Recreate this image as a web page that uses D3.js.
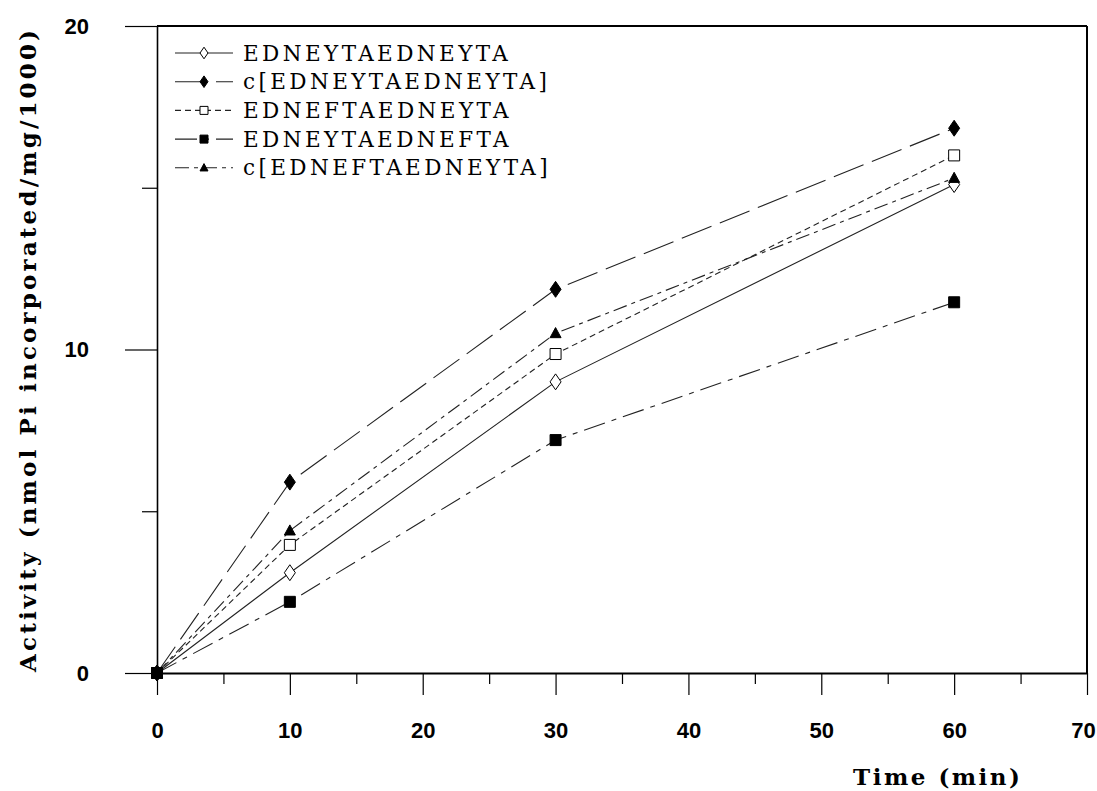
<!DOCTYPE html>
<html>
<head>
<meta charset="utf-8">
<script src="https://cdn.jsdelivr.net/npm/d3@7"></script>
<style>
  body { margin: 0; background: #fff; }
  svg { display: block; }
</style>
</head>
<body>
<div id="canvas"></div>
<script>
// data
var times = [0, 10, 30, 60];
var seriesNames = ['EDNEYTAEDNEYTA', 'c[EDNEYTAEDNEYTA]', 'EDNEFTAEDNEYTA', 'EDNEYTAEDNEFTA', 'c[EDNEFTAEDNEYTA]'];
var linEdneyta = [0, 3.1, 9.0, 15.1];
var cycEdneyta = [0, 5.9, 11.86, 16.84];
var edneftaEdneyta = [0, 3.96, 9.86, 16.0];
var edneytaEdnefta = [0, 2.2, 7.2, 11.46];
var cycEdnefta = [0, 4.4, 10.5, 15.3];
var xMajorTicks = [0, 10, 20, 30, 40, 50, 60, 70];
var xMinorTicks = [5, 15, 25, 35, 45, 55, 65];
var yMajorTicks = [0, 10, 20];
var yMinorTicks = [5, 15];

var values = [linEdneyta, cycEdneyta, edneftaEdneyta, edneytaEdnefta, cycEdnefta];

// line + marker style per series (same order as seriesNames)
var styles = [
  {dash: null, shape: 'diamond', fill: '#fff'},
  {dash: '32,9', shape: 'diamond', fill: '#000'},
  {dash: '6,4', shape: 'square', fill: '#fff'},
  {dash: '22,7,5,7', shape: 'square', fill: '#000'},
  {dash: '14,5,4,5', shape: 'triangle', fill: '#000'}
];
// draw filled square last so it sits on top at the origin
var drawOrder = [0, 1, 2, 4, 3];

var cv = {width: 1097, height: 791};

var x = d3.scaleLinear().domain([0, 70]).range([157, 1087]);
var y = d3.scaleLinear().domain([0, 20]).range([673, 26]);

var svg = d3.select('#canvas').append('svg')
  .attr('width', cv.width)
  .attr('height', cv.height);

svg.append('rect')
  .attr('width', cv.width)
  .attr('height', cv.height)
  .attr('fill', '#fff');

//marker path, size s = half width
function markerPath(shape, s) {
  if (shape === 'diamond') {
    var h = s * 1.45;
    return 'M0,' + (-h) + 'L' + s + ',0L0,' + h + 'L' + (-s) + ',0Z';
  }
  if (shape === 'square') {
    return 'M' + (-s) + ',' + (-s) + 'h' + (2 * s) + 'v' + (2 * s) + 'h' + (-2 * s) + 'Z';
  }
  // triangle
  var t = s * 1.05;
  return 'M0,' + (-t) + 'L' + s + ',' + (t * 0.75) + 'L' + (-s) + ',' + (t * 0.75) + 'Z';
}

//frame: top and right border
svg.append('line')
  .attr('x1', x(0)).attr('x2', x(70))
  .attr('y1', y(20)).attr('y2', y(20))
  .attr('stroke', '#000').attr('stroke-width', 2);
svg.append('line')
  .attr('x1', x(70)).attr('x2', x(70))
  .attr('y1', y(20)).attr('y2', y(0))
  .attr('stroke', '#000').attr('stroke-width', 2);

//x axis
var xAxis = svg.append('g')
  .attr('class', 'x-axis')
  .attr('transform', 'translate(0,' + y(0) + ')')
  .call(d3.axisBottom(x).tickValues(xMajorTicks).tickSize(22).tickPadding(27).tickSizeOuter(0));
xAxis.select('.domain').attr('stroke-width', 2);
xAxis.selectAll('.tick line').attr('stroke-width', 1.2);
xAxis.selectAll('text')
  .attr('font-family', '"Liberation Sans", Arial, sans-serif')
  .attr('font-weight', 'bold')
  .attr('font-size', 22)
  .attr('fill', '#000')
  .attr('dx', d => d === 70 ? -4 : 0);

svg.append('g')
  .attr('transform', 'translate(0,' + y(0) + ')')
  .call(d3.axisBottom(x).tickValues(xMinorTicks).tickSize(11).tickFormat('').tickSizeOuter(0))
  .call(g => g.select('.domain').remove())
  .selectAll('.tick line').attr('stroke-width', 1.2);

//y axis
var yAxis = svg.append('g')
  .attr('class', 'y-axis')
  .attr('transform', 'translate(' + x(0) + ',0)')
  .call(d3.axisLeft(y).tickValues(yMajorTicks).tickSize(32).tickPadding(36).tickSizeOuter(0));
yAxis.select('.domain').attr('stroke-width', 1.6);
yAxis.selectAll('.tick line').attr('stroke-width', 1.2);
yAxis.selectAll('text')
  .attr('font-family', '"Liberation Sans", Arial, sans-serif')
  .attr('font-weight', 'bold')
  .attr('font-size', 22)
  .attr('fill', '#000');

svg.append('g')
  .attr('transform', 'translate(' + x(0) + ',0)')
  .call(d3.axisLeft(y).tickValues(yMinorTicks).tickSize(15).tickFormat('').tickSizeOuter(0))
  .call(g => g.select('.domain').remove())
  .selectAll('.tick line').attr('stroke-width', 1.2);

//axis titles
svg.append('text')
  .attr('transform', 'translate(36,672) rotate(-90)')
  .attr('text-anchor', 'start')
  .attr('font-family', '"DejaVu Serif", serif')
  .attr('font-weight', 'bold')
  .attr('font-size', 23)
  .attr('textLength', 642)
  .attr('lengthAdjust', 'spacing')
  .text('Activity (nmol Pi incorporated/mg/1000)');

svg.append('text')
  .attr('x', 853)
  .attr('y', 785)
  .attr('font-family', '"DejaVu Serif", serif')
  .attr('font-weight', 'bold')
  .attr('font-size', 23)
  .attr('textLength', 167)
  .attr('lengthAdjust', 'spacing')
  .text('Time (min)');

//series lines
var line = d3.line()
  .x((d, i) => x(times[i]))
  .y(d => y(d));

drawOrder.forEach(function(k) {
  svg.append('path')
    .datum(values[k])
    .attr('class', 'series-line')
    .attr('d', line)
    .attr('fill', 'none')
    .attr('stroke', '#222')
    .attr('stroke-width', 1.1)
    .attr('stroke-dasharray', styles[k].dash);
});

drawOrder.forEach(function(k) {
  svg.selectAll('.pt' + k)
    .data(values[k])
    .enter().append('path')
    .attr('class', 'pt' + k)
    .attr('transform', (d, i) => 'translate(' + x(times[i]) + ',' + y(d) + ')')
    .attr('d', markerPath(styles[k].shape, 5.5))
    .attr('fill', styles[k].fill)
    .attr('stroke', '#000')
    .attr('stroke-width', 1);
});

//legend
var legend = svg.append('g').attr('class', 'legend');
seriesNames.forEach(function(name, i) {
  var ly = 53 + i * 28.7;
  legend.append('line')
    .attr('x1', 175).attr('x2', 233)
    .attr('y1', ly).attr('y2', ly)
    .attr('stroke', '#222')
    .attr('stroke-width', 1.1)
    .attr('stroke-dasharray', styles[i].dash);
  legend.append('path')
    .attr('transform', 'translate(204,' + ly + ')')
    .attr('d', markerPath(styles[i].shape, 4))
    .attr('fill', styles[i].fill)
    .attr('stroke', '#000')
    .attr('stroke-width', 1);
  legend.append('text')
    .attr('x', 243)
    .attr('y', ly + 7.5)
    .attr('font-family', '"DejaVu Serif", serif')
    .attr('font-size', 21.5)
    .attr('letter-spacing', 3.4)
    .text(name);
});
</script>
</body>
</html>
